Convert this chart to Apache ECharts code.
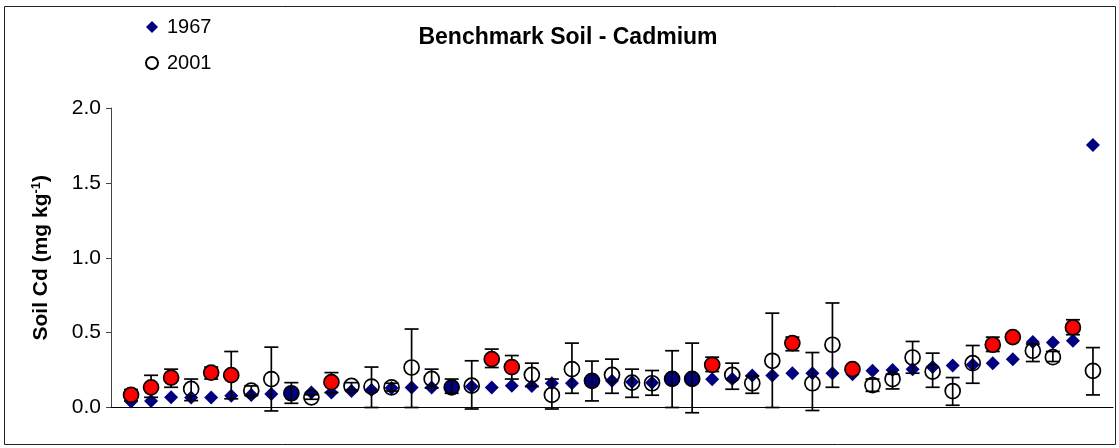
<!DOCTYPE html>
<html>
<head>
<meta charset="utf-8">
<script src="https://cdn.jsdelivr.net/npm/echarts@6/dist/echarts.min.js"></script>
<style>html,body{margin:0;padding:0;background:#fff;}#c{width:1119px;height:448px;}</style>
</head>
<body>
<div id="c"></div>
<script>
// Sample index along x axis
const sampleIds = [1,2,3,4,5,6,7,8,9,10,11,12,13,14,15,16,17,18,19,20,21,22,23,24,25,26,27,28,29,30,31,32,33,34,35,36,37,38,39,40,41,42,43,44,45,46,47,48,49];
// 1967 values
const cd1967 = [0.04,0.044,0.068,0.066,0.066,0.079,0.084,0.09,0.09,0.10,0.10,0.11,0.117,0.13,0.133,0.133,0.135,0.14,0.133,0.146,0.144,0.162,0.162,0.17,0.178,0.17,0.165,0.185,0.19,0.189,0.19,0.213,0.213,0.229,0.229,0.229,0.222,0.245,0.251,0.256,0.27,0.28,0.285,0.296,0.323,0.437,0.434,0.446,1.753];
// 2001 values
const cd2001 = [0.084,0.135,0.2,0.124,0.233,0.216,0.113,0.19,0.095,0.068,0.169,0.144,0.14,0.135,0.267,0.191,0.135,0.146,0.323,0.27,0.218,0.084,0.256,0.178,0.218,0.166,0.162,0.191,0.191,0.285,0.218,0.162,0.312,0.43,0.162,0.419,0.256,0.149,0.19,0.334,0.24,0.11,0.296,0.419,0.47,0.379,0.336,0.535,0.245];
// 2001 error bar upper / lower ends
const errHigh = [0.12,0.215,0.256,0.19,0.27,0.374,0.144,0.403,0.166,0.085,0.233,0.166,0.27,0.162,0.524,0.256,0.19,0.312,0.39,0.347,0.296,0.19,0.43,0.31,0.323,0.256,0.247,0.379,0.43,0.336,0.296,0.21,0.63,0.47,0.367,0.698,0.275,0.19,0.222,0.441,0.363,0.2,0.414,0.47,0.495,0.424,0.374,0.586,0.4];
const errLow = [0.045,0.068,0.135,0.046,0.19,0.058,0.08,-0.023,0.028,0.055,0.1,0.117,0.0,0.11,0.0,0.13,0.095,-0.01,0.267,0.19,0.14,-0.01,0.095,0.044,0.095,0.068,0.082,0.0,-0.035,0.24,0.122,0.095,0.0,0.379,-0.02,0.135,0.24,0.108,0.124,0.229,0.135,0.015,0.162,0.374,0.45,0.307,0.307,0.486,0.084];
// marker class for 2001 point: inc = red filled, nav = navy filled, ns = hollow
const markClass = ['inc','inc','inc','ns','inc','inc','ns','ns','nav','ns','inc','ns','ns','ns','ns','ns','nav','ns','inc','inc','ns','ns','ns','nav','ns','ns','ns','nav','nav','inc','ns','ns','ns','inc','ns','ns','inc','ns','ns','ns','ns','ns','ns','inc','inc','ns','ns','inc','ns'];
const yTicks = [0, 0.5, 1.0, 1.5, 2.0];

const d1967 = sampleIds.map((x,i)=>[x, cd1967[i]]);
const pick = cls => sampleIds.map((x,i)=> markClass[i]===cls ? [x, cd2001[i]] : null).filter(Boolean);
const errData = sampleIds.map((x,i)=>[x, errLow[i], errHigh[i]]);

const chart = echarts.init(document.getElementById('c'));
const FONT = 'Liberation Sans, Arial, sans-serif';
chart.setOption({
  animation: false,
  backgroundColor: '#fff',
  title: {
    text: 'Benchmark Soil - Cadmium',
    left: 568, top: 26, textAlign: 'center', padding: 0,
    textStyle: {fontFamily: FONT, fontSize: 23, fontWeight: 'bold', color: '#000'}
  },
  legend: {
    data: ['1967', '2001'],
    orient: 'vertical',
    left: 145, top: 17, padding: 0,
    itemGap: 16, itemWidth: 12, itemHeight: 12,
    textStyle: {fontFamily: FONT, fontSize: 20, color: '#000', padding: [0,0,0,4]},
    selectedMode: false
  },
  graphic: [{
    type: 'rect', shape: {x: 4.5, y: 6.5, width: 1111, height: 438},
    style: {fill: 'none', stroke: '#222', lineWidth: 1}, silent: true, z: 0
  }],
  grid: {left: 111, right: 6, top: 108, bottom: 40.5},
  xAxis: {
    type: 'value', min: 0, max: 50,
    axisLine: {show: true, onZero: false, lineStyle: {color: '#000', width: 1}},
    axisTick: {show: false}, axisLabel: {show: false}, splitLine: {show: false}
  },
  yAxis: {
    type: 'value', min: 0, max: 2, interval: 0.5,
    name: 'Soil Cd (mg kg{sup|-1})',
    nameLocation: 'middle', nameGap: 58, nameRotate: 90,
    nameTextStyle: {fontFamily: FONT, fontSize: 21, fontWeight: 'bold', color: '#000',
      rich: {sup: {fontFamily: FONT, fontSize: 13, fontWeight: 'bold', color: '#000', verticalAlign: 'top', padding: [0,0,10,0]}}},
    axisLine: {show: true, lineStyle: {color: '#444', width: 1}},
    axisTick: {show: true, inside: false, length: 5, lineStyle: {color: '#444'}},
    axisLabel: {fontFamily: FONT, fontSize: 21, color: '#000', margin: 10,
      formatter: v => yTicks.includes(v) ? v.toFixed(1) : ''},
    splitLine: {show: false}
  },
  series: [
    {
      name: '1967', type: 'scatter', data: d1967, symbol: 'diamond', symbolSize: [14, 14],
      itemStyle: {color: '#000080', opacity: 1}, z: 2
    },
    {
      name: '2001', type: 'scatter', data: pick('ns'), symbol: 'circle', symbolSize: 15,
      itemStyle: {color: 'rgba(255,255,255,0)', borderColor: '#000', borderWidth: 1.7, opacity: 1}, z: 3
    },
    {
      name: '2001nav', type: 'scatter', data: pick('nav'), symbol: 'circle', symbolSize: 15,
      itemStyle: {color: '#000080', borderColor: '#000', borderWidth: 1.7, opacity: 1}, z: 3
    },
    {
      name: 'err', type: 'custom', data: errData, clip: false, z: 4,
      renderItem: (params, api) => {
        const x = api.value(0);
        const pLo = api.coord([x, api.value(1)]);
        const pHi = api.coord([x, api.value(2)]);
        const hw = 7;
        const st = {stroke: '#000', lineWidth: 1.7};
        return {type: 'group', children: [
          {type: 'line', shape: {x1: pLo[0], y1: pLo[1], x2: pHi[0], y2: pHi[1]}, style: st},
          {type: 'line', shape: {x1: pHi[0]-hw, y1: pHi[1], x2: pHi[0]+hw, y2: pHi[1]}, style: st},
          {type: 'line', shape: {x1: pLo[0]-hw, y1: pLo[1], x2: pLo[0]+hw, y2: pLo[1]}, style: st}
        ]};
      }
    },
    {
      name: '2001inc', type: 'scatter', data: pick('inc'), symbol: 'circle', symbolSize: 15,
      itemStyle: {color: '#FF0000', borderColor: '#000', borderWidth: 1.7, opacity: 1}, z: 5
    }
  ]
});
</script>
</body>
</html>
